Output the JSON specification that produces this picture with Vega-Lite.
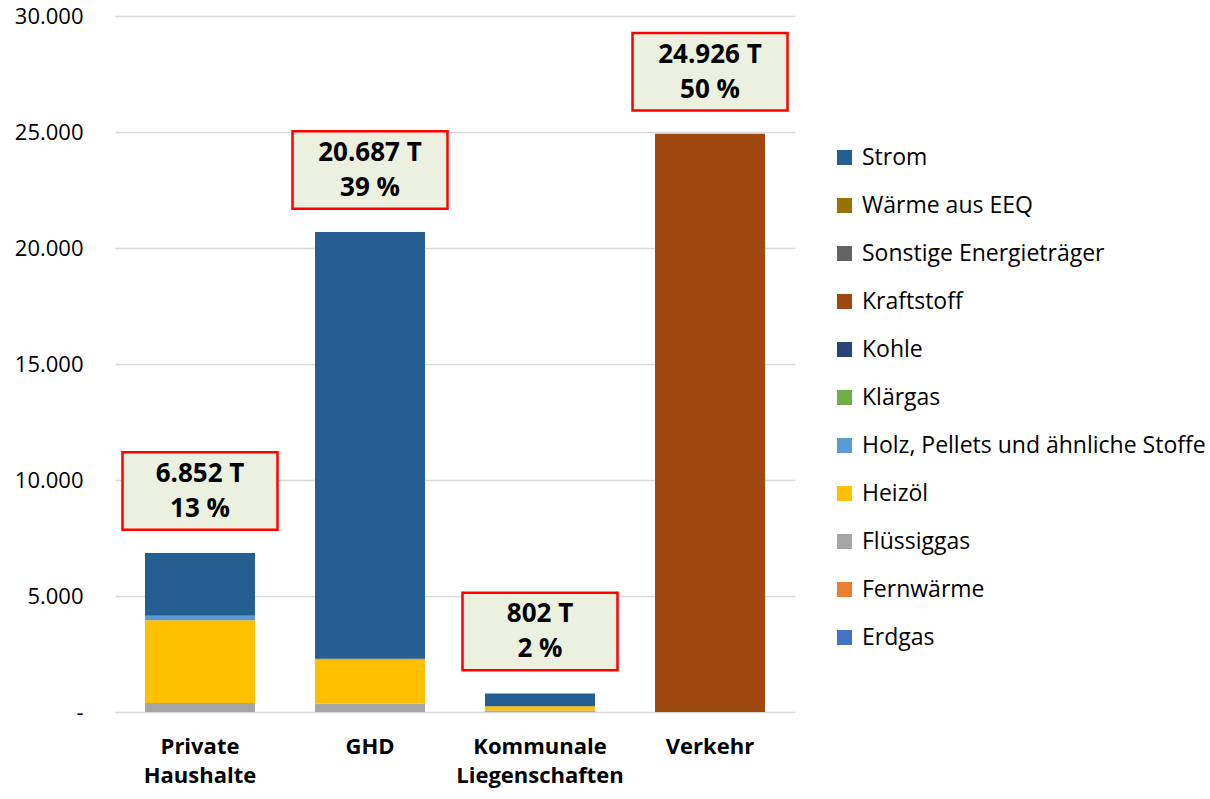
{
  "$schema": "https://vega.github.io/schema/vega-lite/v6.json",
  "width": 680,
  "height": 696,
  "autosize": {"type": "none"},
  "padding": {"left": 115, "top": 16, "right": 415, "bottom": 87},
  "background": "white",
  "config": {
    "locale": {"number": {"decimal": ",", "thousands": ".", "grouping": [3], "currency": ["", " €"]}},
    "font": "Open Sans",
    "view": {"stroke": null}
  },
  "datasets": {
    "parts": [
      {"category": "Private Haushalte", "carrier": "Flüssiggas", "value": 390},
      {"category": "Private Haushalte", "carrier": "Heizöl", "value": 3570},
      {"category": "Private Haushalte", "carrier": "Holz, Pellets und ähnliche Stoffe", "value": 185},
      {"category": "Private Haushalte", "carrier": "Strom", "value": 2707},
      {"category": "GHD", "carrier": "Flüssiggas", "value": 360},
      {"category": "GHD", "carrier": "Heizöl", "value": 1910},
      {"category": "GHD", "carrier": "Kohle", "value": 40},
      {"category": "GHD", "carrier": "Strom", "value": 18377},
      {"category": "Kommunale Liegenschaften", "carrier": "Flüssiggas", "value": 70},
      {"category": "Kommunale Liegenschaften", "carrier": "Heizöl", "value": 180},
      {"category": "Kommunale Liegenschaften", "carrier": "Strom", "value": 552},
      {"category": "Verkehr", "carrier": "Kraftstoff", "value": 24926}
    ],
    "totals": [
      {"category": "Private Haushalte", "total": 6852, "label": ["6.852 T", "13 %"]},
      {"category": "GHD", "total": 20687, "label": ["20.687 T", "39 %"]},
      {"category": "Kommunale Liegenschaften", "total": 802, "label": ["802 T", "2 %"]},
      {"category": "Verkehr", "total": 24926, "label": ["24.926 T", "50 %"]}
    ]
  },
  "encoding": {
    "x": {
      "field": "category",
      "type": "nominal",
      "sort": ["Private Haushalte", "GHD", "Kommunale Liegenschaften", "Verkehr"],
      "scale": {"paddingInner": 0.353, "paddingOuter": 0.1765},
      "axis": {
        "title": null,
        "domain": false,
        "ticks": false,
        "labelAngle": 0,
        "labelFontSize": 22,
        "labelFontWeight": "bold",
        "labelColor": "#000000",
        "labelExpr": "split(datum.label, ' ')",
        "labelLineHeight": 29,
        "labelBaseline": "top",
        "labelPadding": 24
      }
    }
  },
  "layer": [
    {
      "data": {"name": "parts"},
      "mark": {"type": "bar"},
      "encoding": {
        "y": {
          "field": "value",
          "type": "quantitative",
          "aggregate": "sum",
          "stack": "zero",
          "scale": {"domain": [0, 30000]},
          "axis": {
            "title": null,
            "values": [0, 5000, 10000, 15000, 20000, 25000, 30000],
            "domain": false,
            "ticks": false,
            "grid": true,
            "gridColor": "#D9D9D9",
            "gridWidth": 1.5,
            "labelFontSize": 22,
            "labelColor": "#000000",
            "labelPadding": 32,
            "labelExpr": "datum.value == 0 ? '-' : format(datum.value, ',.0f')"
          }
        },
        "order": {"field": "carrier", "sort": "ascending"},
        "color": {
          "field": "carrier",
          "type": "nominal",
          "scale": {
            "domain": ["Strom", "Wärme aus EEQ", "Sonstige Energieträger", "Kraftstoff", "Kohle", "Klärgas", "Holz, Pellets und ähnliche Stoffe", "Heizöl", "Flüssiggas", "Fernwärme", "Erdgas"],
            "range": ["#255E91", "#997300", "#636363", "#9E480E", "#264478", "#70AD47", "#5B9BD5", "#FFC000", "#A5A5A5", "#ED7D31", "#4472C4"]
          },
          "legend": {
            "title": null,
            "orient": "none",
            "legendX": 718,
            "legendY": 130,
            "padding": 0,
            "symbolType": "square",
            "symbolSize": 225,
            "symbolStrokeWidth": 0,
            "labelFontSize": 23,
            "labelColor": "#000000",
            "labelOffset": 6,
            "rowPadding": 24,
            "labelLimit": 400
          }
        }
      }
    },
    {
      "data": {"name": "totals"},
      "mark": {
        "type": "point",
        "shape": "M-1,-0.5H1V0.5H-1Z",
        "size": 24025,
        "filled": true,
        "fill": "#EBF1DE",
        "stroke": "#FF0000",
        "strokeWidth": 2.5,
        "opacity": 1,
        "yOffset": -62
      },
      "encoding": {
        "y": {"field": "total", "type": "quantitative"}
      }
    },
    {
      "data": {"name": "totals"},
      "mark": {
        "type": "text",
        "fontSize": 26,
        "fontWeight": "bold",
        "color": "#000000",
        "lineHeight": 35,
        "baseline": "middle",
        "yOffset": -79
      },
      "encoding": {
        "y": {"field": "total", "type": "quantitative"},
        "text": {"field": "label"}
      }
    }
  ]
}
